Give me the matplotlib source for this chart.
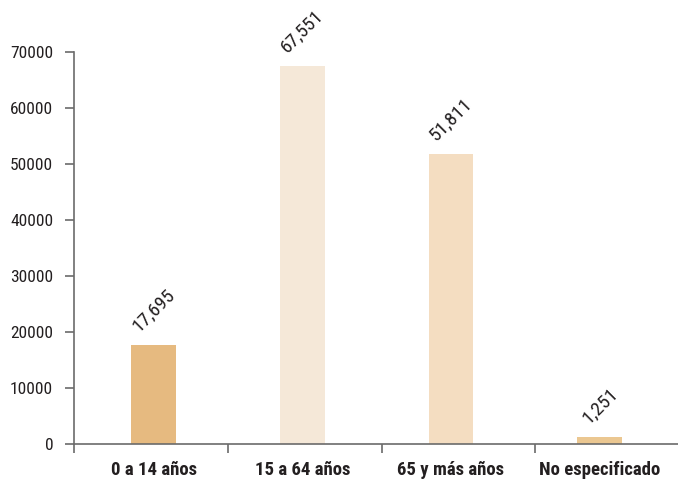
import numpy as np
import matplotlib
matplotlib.use("Agg")
import matplotlib.pyplot as plt

categories = ["0 a 14 años", "15 a 64 años", "65 y más años", "No especificado"]
values = [17695, 67551, 51811, 1251]
labels = ["17,695", "67,551", "51,811", "1,251"]
colors = ["#E6BA80", "#F5E8D8", "#F4DDC1", "#EBC791"]

plt.rcParams['font.family'] = ['Roboto Condensed', 'Archivo Narrow', 'DejaVu Sans']
txt = "#231F20"
axc = "#6B6B6B"

fig = plt.figure(figsize=(6.78, 4.8), dpi=100)
ax = fig.add_axes([74/678, 1-444/480, 1-74/678, (444-52)/480])

x = np.arange(len(categories))
ax.bar(x, values, width=0.30, color=colors, zorder=2)

for xi, v, lab in zip(x, values, labels):
    ax.annotate(lab, (xi, v), xytext=(0, 7), textcoords="offset points",
                rotation=45, ha="center", va="bottom", fontsize=14, color=txt)

ax.set_yticks(np.arange(0, 70001, 10000))
ax.set_xticks(x)
ax.set_xticklabels(categories, fontsize=13.5, fontweight="bold", color=txt)
ax.set_xticks(-0.535 + 1.034*np.arange(5), minor=True)
# ticks expand the view, so set limits afterwards
ax.set_xlim(-0.535, 3.527)
ax.set_ylim(0, 70000)

for s in ["top", "right"]:
    ax.spines[s].set_visible(False)
for s in ["left", "bottom"]:
    ax.spines[s].set_color(axc)
    ax.spines[s].set_linewidth(1.2)

ax.tick_params(axis="y", length=6.5, width=1.2, color=axc, pad=8.5,
               labelsize=12.5, labelcolor=txt)
ax.tick_params(axis="x", which="major", length=0, pad=12)
ax.tick_params(axis="x", which="minor", length=6.5, width=1.2, color=axc)

fig.savefig("out.png", dpi=100)
